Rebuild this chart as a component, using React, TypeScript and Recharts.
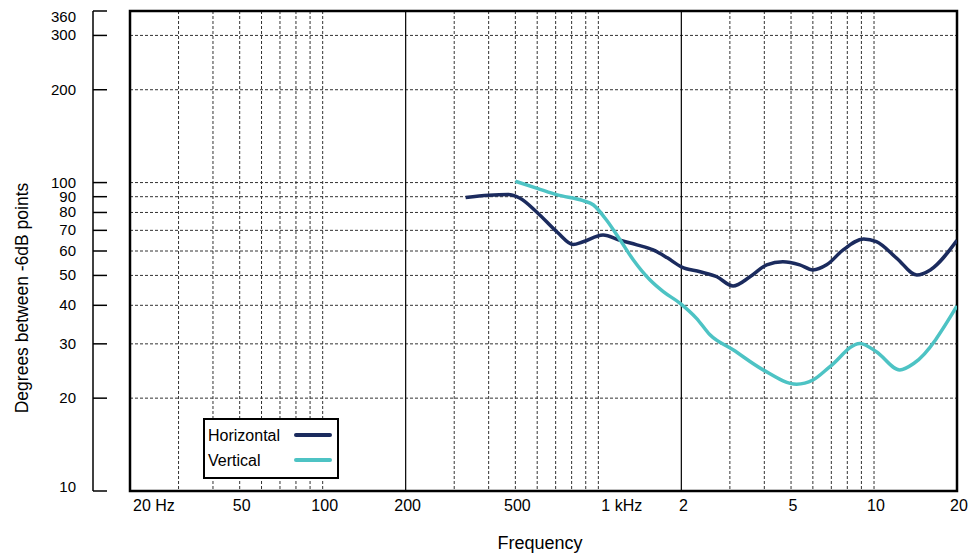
import React from 'react';
import { LineChart, Line, XAxis, YAxis, CartesianGrid, ReferenceArea, Legend } from 'recharts';

// Tick labels and grid positions (Hz / degrees)
const freqTicks = [20, 50, 100, 200, 500, 1000, 2000, 5000, 10000, 20000];
const freqMinorGrid = [
  30, 40, 50, 60, 70, 80, 90, 100,
  300, 400, 500, 600, 700, 800, 900, 1000,
  3000, 4000, 5000, 6000, 7000, 8000, 9000, 10000,
];
const freqMajorGrid = [200, 2000];
const degreeTicks = [10, 20, 30, 40, 50, 60, 70, 80, 90, 100, 200, 300, 360];
const degreeGrid = [20, 30, 40, 50, 60, 70, 80, 90, 100, 200, 300];

// Beamwidth
const horizontalData = [
  { f: 330, deg: 89.5 },
  { f: 400, deg: 91 },
  { f: 470, deg: 91.5 },
  { f: 520, deg: 89 },
  { f: 600, deg: 80 },
  { f: 710, deg: 69 },
  { f: 810, deg: 63 },
  { f: 880, deg: 64.3 },
  { f: 1040, deg: 67.6 },
  { f: 1200, deg: 65 },
  { f: 1380, deg: 62.8 },
  { f: 1580, deg: 60.5 },
  { f: 1780, deg: 57 },
  { f: 2000, deg: 53.3 },
  { f: 2340, deg: 51.4 },
  { f: 2690, deg: 49.5 },
  { f: 3080, deg: 46.2 },
  { f: 3550, deg: 49.5 },
  { f: 4080, deg: 54.1 },
  { f: 4670, deg: 55.4 },
  { f: 5380, deg: 54.1 },
  { f: 6000, deg: 52.1 },
  { f: 6730, deg: 54.1 },
  { f: 7730, deg: 60.5 },
  { f: 9170, deg: 65.6 },
  { f: 10200, deg: 64.3 },
  { f: 12100, deg: 56.8 },
  { f: 14300, deg: 50.2 },
  { f: 16000, deg: 52.1 },
  { f: 20000, deg: 65 },
];

const verticalData = [
  { f: 500, deg: 101 },
  { f: 600, deg: 95.8 },
  { f: 710, deg: 91.2 },
  { f: 880, deg: 87.4 },
  { f: 960, deg: 84.6 },
  { f: 1070, deg: 75.6 },
  { f: 1200, deg: 65.1 },
  { f: 1340, deg: 56.1 },
  { f: 1540, deg: 48.3 },
  { f: 1720, deg: 44.3 },
  { f: 1980, deg: 40.6 },
  { f: 2270, deg: 36.3 },
  { f: 2540, deg: 32.1 },
  { f: 3080, deg: 28.7 },
  { f: 3960, deg: 24.7 },
  { f: 5240, deg: 22.2 },
  { f: 6000, deg: 22.9 },
  { f: 6920, deg: 25.3 },
  { f: 8890, deg: 30.1 },
  { f: 10200, deg: 28.3 },
  { f: 12400, deg: 24.7 },
  { f: 14000, deg: 26 },
  { f: 20000, deg: 39.8 },
];

const FONT = '"Liberation Sans", Arial, sans-serif';
const NAVY = '#1b2b5e';
const TEAL = '#4dc3c4';
const PLOT_TOP = 11;
const PLOT_BOTTOM = 491;

const freqLabel = (v: number) => {
  if (v === 20) return '20 Hz';
  if (v === 1000) return '1 kHz';
  if (v >= 1000) return String(v / 1000);
  return String(v);
};

const XTick = (props: any) => {
  const { x, payload } = props;
  const v = payload.value;
  const withUnit = v === 20 || v === 1000;
  return (
    <text
      x={withUnit ? x + 3 : x + 2}
      y={PLOT_BOTTOM + 20}
      textAnchor={withUnit ? 'start' : 'middle'}
      fontSize={16}
      fontFamily={FONT}
      fill="#000"
    >
      {freqLabel(v)}
    </text>
  );
};

const YTick = (props: any) => {
  const { y, payload } = props;
  // keep end labels inside the axis span
  const ly = Math.min(Math.max(y, PLOT_TOP + 6), PLOT_BOTTOM - 4);
  return (
    <g>
      <line x1={93} x2={107} y1={y} y2={y} stroke="#000" strokeWidth={1.5} />
      <text x={76} y={ly + 5} textAnchor="end" fontSize={15} fontFamily={FONT} fill="#000">
        {payload.value}
      </text>
    </g>
  );
};

// detached y axis line + rotated title
const YTitle = () => (
  <g>
    <line x1={93} x2={93} y1={PLOT_TOP} y2={PLOT_BOTTOM} stroke="#000" strokeWidth={1.5} />
    <text
      transform="translate(28, 298) rotate(-90)"
      textAnchor="middle"
      fontSize={17.5}
      fontFamily={FONT}
      fill="#000"
    >
      Degrees between -6dB points
    </text>
  </g>
);

const XTitle = () => (
  <text x={540} y={549} textAnchor="middle" fontSize={18} fontFamily={FONT} fill="#000">
    Frequency
  </text>
);

const LegendBox = () => {
  const rows = [
    { name: 'Horizontal', color: NAVY, top: 17 },
    { name: 'Vertical', color: TEAL, top: 42 },
  ];
  return (
    <div
      style={{
        position: 'relative',
        width: 136,
        height: 61,
        boxSizing: 'border-box',
        border: '2.5px solid #000',
        background: '#fff',
        fontFamily: FONT,
        fontSize: 16,
        color: '#000',
      }}
    >
      {rows.map((r) => (
        <React.Fragment key={r.name}>
          <span style={{ position: 'absolute', left: 3, top: r.top - 12, lineHeight: '22px' }}>{r.name}</span>
          <span
            style={{
              position: 'absolute',
              left: 89,
              top: r.top - 4,
              width: 38,
              height: 4,
              borderRadius: 2,
              background: r.color,
            }}
          />
        </React.Fragment>
      ))}
    </div>
  );
};

const logX = { type: 'number' as const, scale: 'log' as const, domain: [20, 20000], allowDataOverflow: true, dataKey: 'f' };
const logY = { type: 'number' as const, scale: 'log' as const, domain: [10, 360], allowDataOverflow: true };

export default function App() {
  return (
    <div style={{ position: 'absolute', left: 0, top: 0, width: 975, height: 558, background: '#fff' }}>
      <LineChart width={975} height={558} margin={{ top: PLOT_TOP, right: 18, bottom: 20, left: 0 }}>
        <XAxis
          {...logX}
          ticks={freqTicks}
          interval={0}
          height={47}
          axisLine={false}
          tickLine={false}
          tick={<XTick />}
          label={<XTitle />}
        />
        <XAxis {...logX} xAxisId="minor" ticks={freqMinorGrid} interval={0} hide />
        <XAxis {...logX} xAxisId="major" ticks={freqMajorGrid} interval={0} hide />
        <YAxis
          {...logY}
          ticks={degreeTicks}
          interval={0}
          width={130}
          axisLine={false}
          tickLine={false}
          tick={<YTick />}
          label={<YTitle />}
        />
        <YAxis {...logY} yAxisId="grid" ticks={degreeGrid} interval={0} hide />
        <CartesianGrid xAxisId="minor" yAxisId="grid" stroke="#333" strokeDasharray="3 2" />
        <CartesianGrid xAxisId="major" yAxisId="grid" horizontal={false} stroke="#000" strokeWidth={1.2} />
        <ReferenceArea x1={20} x2={20000} y1={10} y2={360} fill="none" stroke="#000" strokeWidth={2.5} ifOverflow="visible" />
        <Line
          data={horizontalData}
          dataKey="deg"
          name="Horizontal"
          type="monotone"
          stroke={NAVY}
          strokeWidth={3.5}
          dot={false}
          isAnimationActive={false}
        />
        <Line
          data={verticalData}
          dataKey="deg"
          name="Vertical"
          type="monotone"
          stroke={TEAL}
          strokeWidth={3.5}
          dot={false}
          isAnimationActive={false}
        />
        <Legend
          layout="vertical"
          align="center"
          verticalAlign="middle"
          wrapperStyle={{ left: 203, top: 418, width: 136, height: 61 }}
          content={<LegendBox />}
        />
      </LineChart>
    </div>
  );
}
